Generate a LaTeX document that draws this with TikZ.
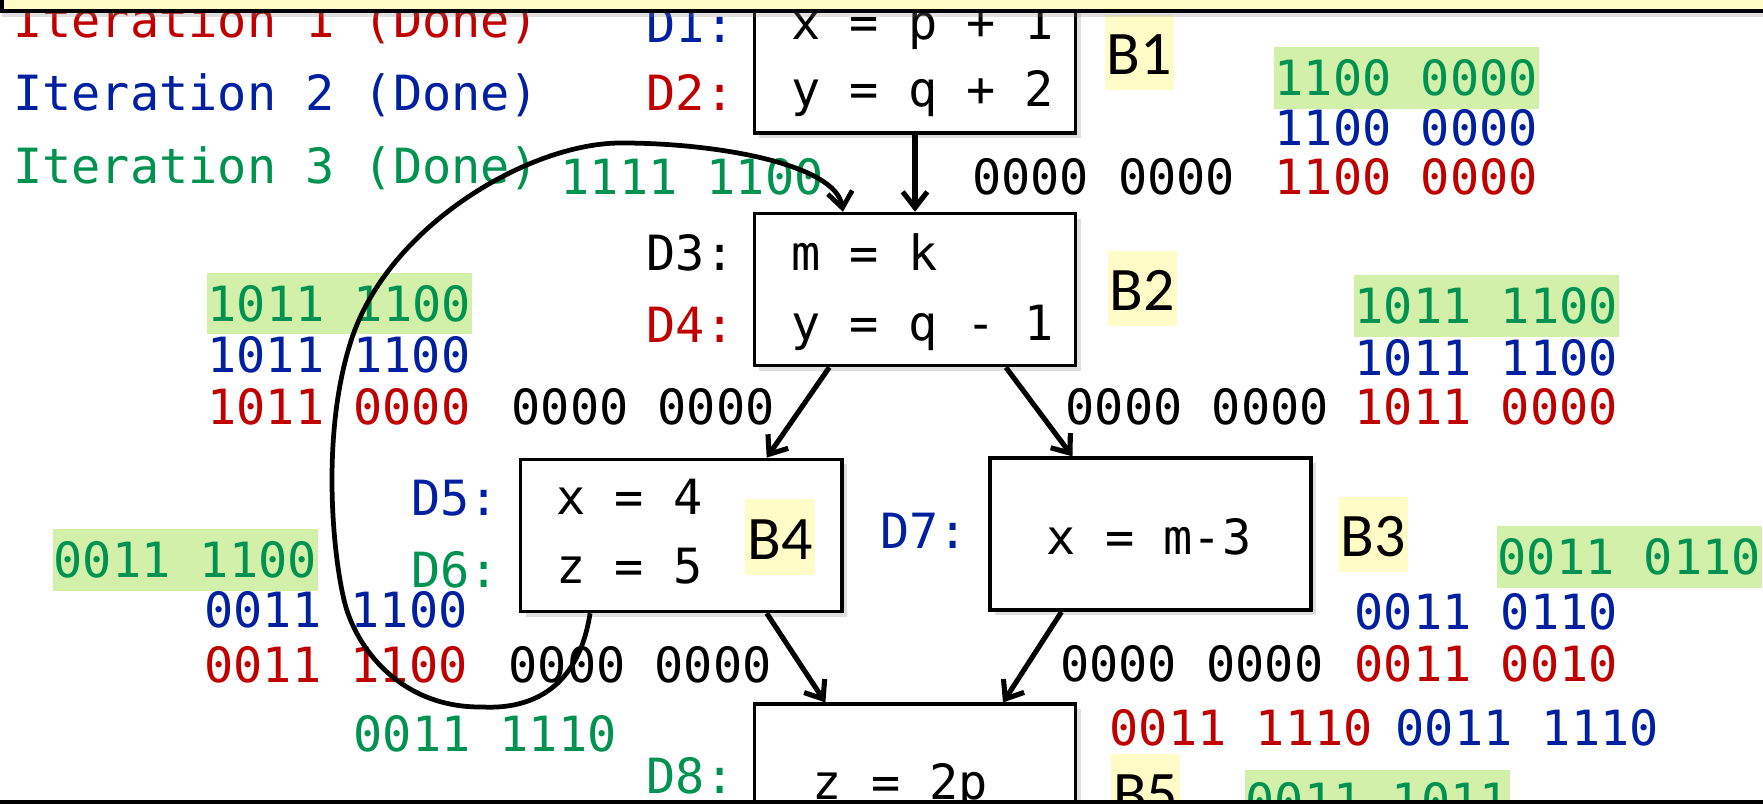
\documentclass[tikz,border=0pt]{standalone}
\usepackage{fontspec}
\usepackage{tikz}
\usetikzlibrary{arrows.meta,calc,shadows}
\newfontfamily\codefont{DejaVu Sans Mono}
\newfontfamily\blockfont{Carlito}
\definecolor{itred}{RGB}{192,0,0}
\definecolor{itblue}{RGB}{0,32,160}
\definecolor{itgreen}{RGB}{0,146,80}
\definecolor{hlgreen}{RGB}{210,240,170}
\definecolor{hlyellow}{RGB}{255,252,200}

\begin{document}
\begin{tikzpicture}[
  x=0.01cm, y=-0.01cm,
  txt/.style={font=\codefont\fontsize{13.8}{16}\selectfont, inner sep=0pt, text height=0.354cm, text depth=0pt, anchor=west},
  lbl/.style={txt, anchor=east},
  hl/.style={txt, fill=hlgreen, text=itgreen, inner xsep=0.3pt, inner ysep=0.128cm},
  blk/.style={draw, line width=1pt, fill=white, minimum width=3.21cm, minimum height=1.52cm, inner sep=0pt,
    drop shadow={shadow xshift=0.05cm, shadow yshift=-0.05cm, opacity=0.25}},
  bname/.style={font=\blockfont\fontsize{17.6}{20}\selectfont, fill=hlyellow, inner xsep=0.02cm, inner ysep=0.155cm, text height=0.445cm, text depth=0pt},
  arr/.style={-{Straight Barb[length=4.5pt, width=7pt]}, line width=1.45pt}
]
\useasboundingbox (0,0) rectangle (1763,804);

% basic blocks
\node[blk] (B1) at (915,57) {};
\node[blk] (B2) at (915,289.6) {};
\node[blk] (B4) at (681.3,535.5) {};
\node[blk] (B3) at (1150.4,534.2) {};
\node[blk] (B5) at (915,780.3) {};

\node[txt] (c1) at (790.5,22) {x = p + 1};
\node[txt] (c2) at (790.5,89) {y = q + 2};
\node[txt] (c3) at (790.5,253) {m = k};
\node[txt] (c4) at (790.5,323) {y = q - 1};
\node[txt] (c5) at (555.7,497) {x = 4};
\node[txt] (c6) at (555.7,566) {z = 5};
\node[txt] (c7) at (1046,537) {x = m-3};
\node[txt] (c8) at (812,782) {z = 2p};

\node[lbl, itblue]  (d1) at (735,25) {D1:};
\node[lbl, itred]   (d2) at (735,93) {D2:};
\node[lbl]          (d3) at (735,253) {D3:};
\node[lbl, itred]   (d4) at (735,325) {D4:};
\node[lbl, itblue]  (d5) at (499.4,498) {D5:};
\node[lbl, itgreen] (d6) at (499.4,570) {D6:};
\node[lbl, itblue]  (d7) at (968.8,531) {D7:};
\node[lbl, itgreen] (d8) at (735,776) {D8:};

\node[bname] (n1) at (1139.4,52.5) {B1};
\node[bname] (n2) at (1142.5,288.7) {B2};
\node[bname] (n4) at (780,536.9) {B4};
\node[bname] (n3) at (1373.5,534.5) {B3};
\node[bname] (n5) at (1145.8,791.8) {B5};

% legend
\node[txt, itred]   (it1) at (12.6,20) {Iteration 1 (Done)};
\node[txt, itblue]  (it2) at (12.6,93) {Iteration 2 (Done)};
\node[txt, itgreen] (it3) at (12.6,166) {Iteration 3 (Done)};

% bit vectors
\node[txt]          (k1) at (971.5,176.7) {0000 0000};
\node[hl]           (g1) at (1273,78) {1100 0000};
\node[txt, itblue]  (u1) at (1274,128.3) {1100 0000};
\node[txt, itred]   (r1) at (1274,176.7) {1100 0000};
\node[txt, itgreen] (g0) at (560,177) {1111 1100};

\node[hl]           (g2) at (206,303.5) {1011 1100};
\node[txt, itblue]  (u2) at (206.7,355) {1011 1100};
\node[txt, itred]   (r2) at (206.7,406.7) {1011 0000};
\node[txt]          (k2) at (511,406.7) {0000 0000};

\node[hl]           (g3) at (1353,306) {1011 1100};
\node[txt, itblue]  (u3) at (1354,358) {1011 1100};
\node[txt, itred]   (r3) at (1354,406.7) {1011 0000};
\node[txt]          (k3) at (1065,406.7) {0000 0000};

\node[hl]           (g4) at (52,560) {0011 1100};
\node[txt, itblue]  (u4) at (203.8,610) {0011 1100};
\node[txt, itred]   (r4) at (203.8,665) {0011 1100};
\node[txt]          (k4) at (508,665) {0000 0000};
\node[txt, itgreen] (g5) at (353,734) {0011 1110};

\node[hl]           (g6) at (1496,557) {0011 0110};
\node[txt, itblue]  (u6) at (1354,611.7) {0011 0110};
\node[txt, itred]   (r6) at (1354,663.3) {0011 0010};
\node[txt]          (k6) at (1059.6,663.3) {0000 0000};

\node[txt, itred]   (r7) at (1109,727.5) {0011 1110};
\node[txt, itblue]  (u7) at (1395,727.5) {0011 1110};
\node[hl]           (g7) at (1244,800.7) {0011 1011};

% edges
\draw[arr] (B1) -- (B2);
\draw[arr] ($(B2.south west)!0.236!(B2.south east)$) -- ($(B4.north west)!0.763!(B4.north east)$);
\draw[arr] ($(B2.south west)!0.78!(B2.south east)$) -- ($(B3.north west)!0.26!(B3.north east)$);
\draw[arr] ($(B4.south west)!0.763!(B4.south east)$) -- ($(B5.north west)!0.224!(B5.north east)$);
\draw[arr] ($(B3.south west)!0.226!(B3.south east)$) -- ($(B5.north west)!0.771!(B5.north east)$);

% back edge B4 -> B2
\draw[arr, line width=1.35pt] ($(B4.south west)!0.219!(B4.south east)$)
  .. controls (580,680) and (540,710) .. (482,707)
  .. controls (400,708) and (355,647) .. (344,600)
  .. controls (331,544) and (322,424) .. (353,335)
  .. controls (392,224) and (530,143) .. (621,143)
  .. controls (720,143) and (836,165) .. ($(B2.north west)!0.278!(B2.north east)$);

% slide frame
\draw[fill=hlyellow, line width=1.3pt, drop shadow={shadow xshift=0cm, shadow yshift=-0.06cm, opacity=0.25}]
  (1.7,-60) rectangle (1830,11);
\draw[line width=1.2pt] (0,802) -- (1763,802);
\end{tikzpicture}
\end{document}
